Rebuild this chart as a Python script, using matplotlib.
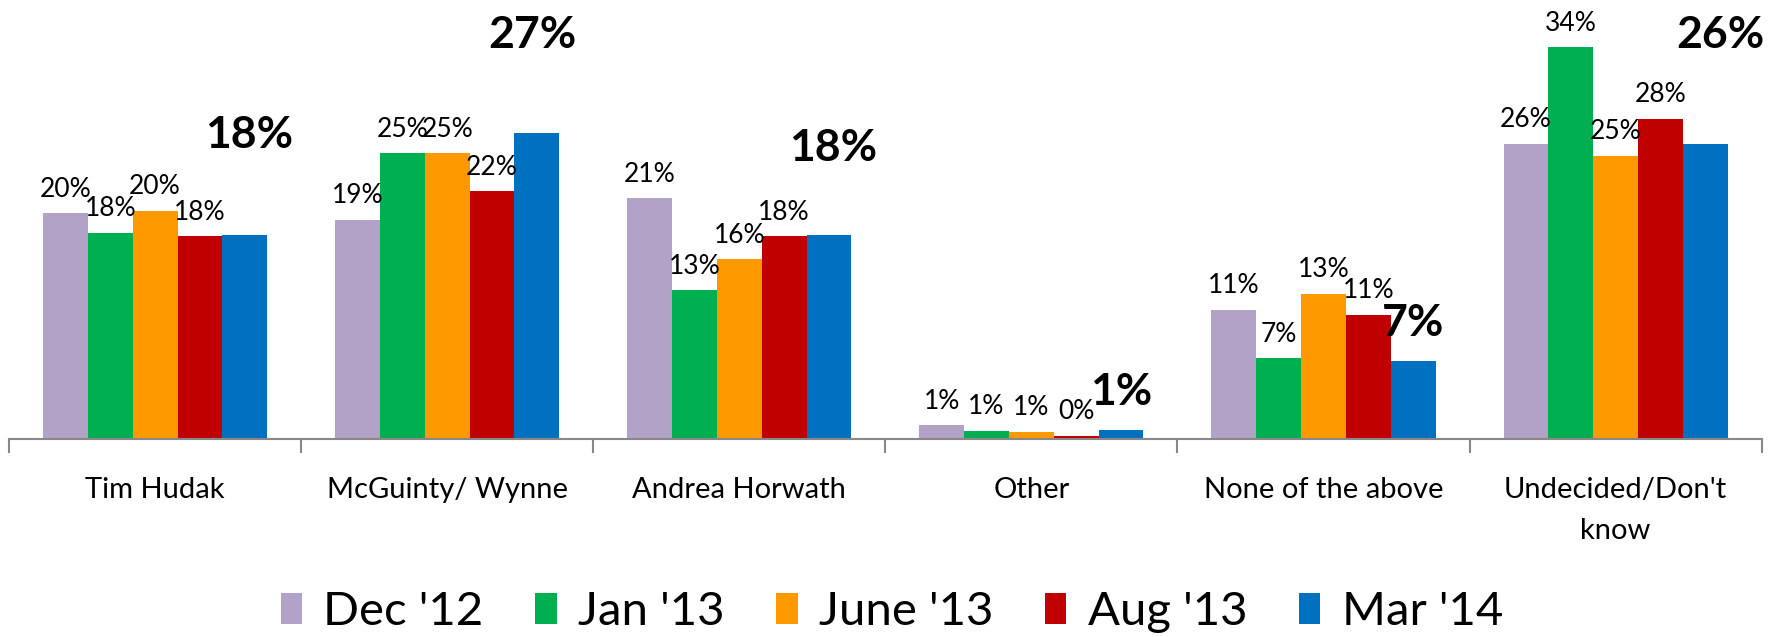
import numpy as np
import matplotlib.pyplot as plt

plt.rcParams['font.family'] = ['Lato', 'DejaVu Sans']

categories = ['Tim Hudak', 'McGuinty/ Wynne', 'Andrea Horwath', 'Other',
              'None of the above', "Undecided/Don't\nknow"]
series = ["Dec '12", "Jan '13", "June '13", "Aug '13", "Mar '14"]
colors = ['#B3A2C7', '#00B050', '#FF9900', '#C00000', '#0070C0']

dec12 = [19.6, 19.0, 20.9, 1.2, 11.2, 25.6]
jan13 = [17.9, 24.8, 12.9, 0.7, 7.0, 34.0]
jun13 = [19.8, 24.8, 15.6, 0.6, 12.6, 24.6]
aug13 = [17.6, 21.5, 17.6, 0.3, 10.8, 27.8]
mar14 = [17.7, 26.6, 17.7, 0.8, 6.8, 25.6]
values = [dec12, jan13, jun13, aug13, mar14]

fig = plt.figure(figsize=(17.73, 6.37), dpi=100)
ax = fig.add_axes([0.0051, 0.3108, 0.9885, 0.6892])

x = np.arange(len(categories))
w = 0.1535
for i, (name, vals, c) in enumerate(zip(series, values, colors)):
    pos = x + (i - 2) * w
    ax.bar(pos, vals, w, color=c, label=name)
    if i < 4:
        for px, v in zip(pos, vals):
            ax.annotate(f'{round(v)}%', (px, v), xytext=(0, 12), textcoords='offset points',
                        ha='center', va='baseline', fontsize=19)

# big bold labels for the latest wave
big_off = [(3, 63), (-3, 61), (3, 53), (0, 18), (0, 18), (11, 69)]
for px, v, off in zip(x + 2 * w, mar14, big_off):
    ax.annotate(f'{round(v)}%', (px, v), xytext=off, textcoords='offset points',
                ha='center', va='baseline', fontsize=32, fontweight='bold')

ax.set_xlim(-0.5, len(categories) - 0.5)
ax.set_ylim(0, 38.1)
ax.set_yticks([])
for s in ['top', 'right', 'left']:
    ax.spines[s].set_visible(False)
ax.spines['bottom'].set_color('#888888')
ax.spines['bottom'].set_linewidth(1.5)

ax.set_xticks(x)
ax.set_xticklabels(categories, fontsize=21, linespacing=1.75, va='top')
ax.tick_params(axis='x', which='major', length=0, pad=27)
ax.set_xticks(np.arange(len(categories) + 1) - 0.5, minor=True)
ax.tick_params(axis='x', which='minor', length=10, width=1.5, color='#888888')

fig.legend(loc='center', bbox_to_anchor=(0.503, 0.039), ncol=5, frameon=False,
           fontsize=34, handlelength=0.45, handleheight=0.65, handletextpad=0.45,
           columnspacing=1.1, borderaxespad=0)

fig.savefig('out.png', dpi=100)
